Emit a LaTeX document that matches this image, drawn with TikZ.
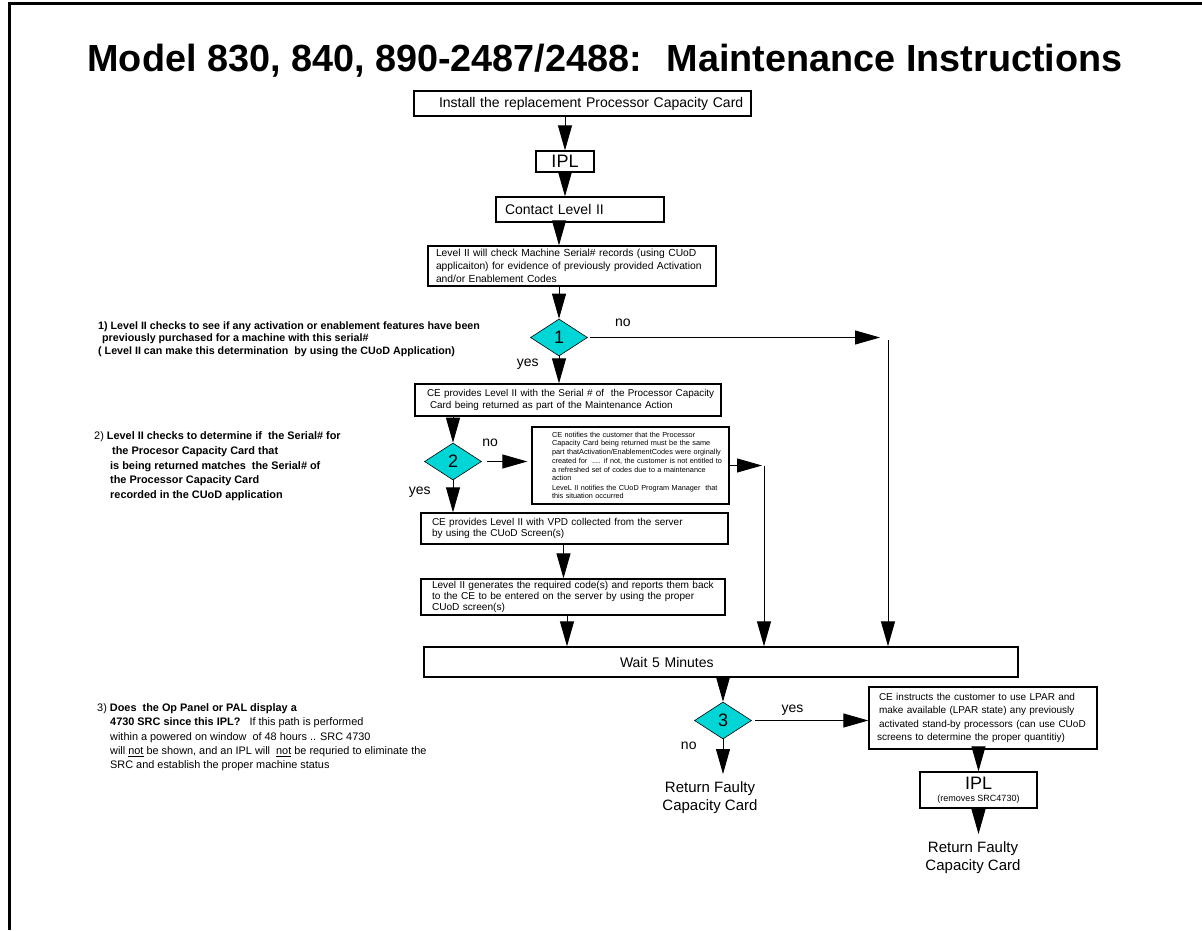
\documentclass[tikz,border=0pt]{standalone}
\usepackage{fontspec}
\setmainfont{Liberation Sans}
\usepackage{tikz}
\usetikzlibrary{
	shapes.geometric,
	positioning,
	arrows.meta
}
\definecolor{decisioncyan}{RGB}{0,214,214}
\newcommand\fsz[2]{\fontsize{#1}{#2}\selectfont}

\begin{document}
\begin{tikzpicture}[x=1pt,y=-1pt,
	box/.style={draw,line width=1.3pt,inner sep=0pt,align=left},
	boxsize/.style n args={3}{minimum width=#1,text width=#1,minimum height=#2,
		execute at begin node={\leftskip=#3\rightskip=-40pt plus 1fil\relax}},
	test/.style={draw,diamond,fill=decisioncyan,line width=.6pt,inner sep=0pt,
		minimum width=57pt,minimum height=37pt,font=\fsz{18}{20}},
	flow/.style={-{Triangle[length=25pt,width=14pt]},line width=.9pt},
	lbl/.style={font=\fsz{14}{16},inner sep=2pt},
	note/.style={anchor=north west,align=left,inner sep=0pt},
	final/.style={anchor=north,align=center,inner xsep=0pt,inner ysep=7pt,font=\fsz{15}{18.7}}
]
	\useasboundingbox (0,0) rectangle (1202,930);
	\draw[line width=3pt] (9,930) -- (9,3) -- (1202,3);

	\node[font=\bfseries\fsz{37.8}{40},inner sep=0pt,anchor=base] (title) at (605,71)
		{Model 830, 840, 890-2487/2488:~ Maintenance Instructions};

	% main column
	\draw
		node[box,boxsize={337pt}{25pt}{25pt},font=\fsz{14}{16}] (install) at (582.5,103.5)
			{Install the replacement Processor Capacity Card}
		node[box,align=center,minimum width=58pt,minimum height=21pt,font=\fsz{18}{20}] (ipl) at (565,161.5) {IPL}
		node[box,boxsize={168pt}{25pt}{9pt},font=\fsz{14}{16}] (contact) at (580,209.5) {Contact Level II}
		node[box,boxsize={288pt}{40pt}{8pt},font=\fsz{10.3}{13}] (check) at (572,266)
			{Level II will check Machine Serial\# records (using CUoD\\applicaiton) for evidence of previously provided Activation\\and/or Enablement Codes}
		node[test] (d1) at (559,337.5) {1}
		node[box,boxsize={306pt}{32pt}{12pt},font=\fsz{9.9}{12}] (serial) at (568,400)
			{CE provides Level II with the Serial \# of~ the Processor Capacity\\\hspace*{3pt}Card being returned as part of the Maintenance Action}
		node[test] (d2) at (453,461.5) {2}
		node[box,boxsize={197pt}{77pt}{20pt},font=\fsz{7.3}{8.3}] (notify) at (630.5,465.5)
			{CE notifies the customer that the Processor\\Capacity Card being returned must be the same\\part thatActivation/EnablementCodes were orginally\\[1.5pt]created for~ .... if not, the customer is not entitled to\\a refreshed set of codes due to a maintenance\\action\\[1.5pt]LeveL II notifies the CUoD Program Manager~ that\\this situation occurred}
		node[box,boxsize={307pt}{31pt}{11pt},font=\fsz{10}{11.5}] (vpd) at (574.5,528.5)
			{CE provides Level II with VPD collected from the server\\by using the CUoD Screen(s)}
		node[box,boxsize={304pt}{36pt}{11pt},font=\fsz{10.1}{11.3}] (gen) at (573,597)
			{Level II generates the required code(s) and reports them back\\to the CE to be entered on the server by using the proper\\CUoD screen(s)}
		node[box,boxsize={594pt}{30pt}{196pt},font=\fsz{14}{16}] (wait) at (721,662) {Wait 5 Minutes}
		node[test] (d3) at (723,720.5) {3}
		node[box,boxsize={228pt}{62pt}{8pt},font=\fsz{10}{13.3}] (instruct) at (983,718)
			{\hspace*{2pt}CE instructs the customer to use LPAR and\\\hspace*{2pt}make available (LPAR state) any previously\\\hspace*{2pt}activated stand-by processors (can use CUoD\\screens to determine the proper quantitiy)}
		node[box,align=center,minimum width=117pt,minimum height=36pt,font=\fsz{9}{12}] (ipl2) at (978.5,790)
			{{\fsz{18}{20}IPL}\\(removes SRC4730)}
		node[final] (ret1) at (710,774) {Return Faulty\\Capacity Card}
		node[final] (ret2) at (973,834) {Return Faulty\\Capacity Card}
	;
	\coordinate (nojoin) at (880,337.5);
	\coordinate (drop1) at (888,340);
	\coordinate (drop2) at (764,465.5);

	% connectors
	\draw
		(install.south -| ipl) edge[flow] (ipl.north)
		(ipl.south) edge[flow] (ipl.south |- contact.north)
		(contact.south -| d1) edge[flow] (check.north -| d1)
		(check.south -| d1) edge[flow] (d1.north)
		(d1.south) edge[flow] node[lbl,left=18pt,pos=.3]{yes} (d1.south |- serial.north)
		(d1.east) edge[flow,shorten <=2pt] node[lbl,above=8pt,pos=.12]{no} (nojoin)
		(drop1) edge[flow] (drop1 |- wait.north)
		(serial.south -| d2) edge[flow] (d2.north)
		(d2.east) edge[flow,shorten <=5pt,shorten >=4pt] node[lbl,above=12pt,pos=.17]{no} (notify.west |- d2.east)
		(notify.east) edge[flow,shorten >=2pt] (drop2)
		(drop2) edge[flow] (drop2 |- wait.north)
		(d2.south) edge[flow] node[lbl,left=20pt,pos=.36]{yes} (d2.south |- vpd.north)
		([xshift=-11pt]vpd.south) edge[flow] ([xshift=-11pt]vpd.south |- gen.north)
		([xshift=-6pt]gen.south) edge[flow] ([xshift=-6pt]gen.south |- wait.north)
		(d3.north |- wait.south) edge[flow] (d3.north)
		(d3.east) edge[flow,shorten <=3pt] node[lbl,above=3pt,pos=.35]{yes} (instruct.west |- d3.east)
		(d3.south) edge[flow] node[lbl,left=24pt,pos=.2]{no} (d3.south |- ret1.north)
		(instruct.south -| ipl2) edge[flow] (ipl2.north)
		(ipl2.south) edge[flow] (ipl2.south |- ret2.north)
	;

	% notes on the left
	\node[note,font=\bfseries\fsz{10.7}{12.5}] (note1) at (98,321.5)
		{1) Level II checks to see if any activation or enablement features have been\\\hspace*{4pt}previously purchased for a machine with this serial\#\\( Level II can make this determination~ by using the CUoD Application)};
	\node[note,font=\fsz{10.9}{14.7}] (note2) at (94,431.5)
		{2) \textbf{Level II checks to determine if~ the Serial\# for}\\\hspace*{18pt}\textbf{the Procesor Capacity Card that}\\\hspace*{16pt}\textbf{is being returned matches~ the Serial\# of}\\\hspace*{16pt}\textbf{the Processor Capacity Card}\\\hspace*{16pt}\textbf{recorded in the CUoD application}};
	\node[note,font=\fsz{10.9}{14.2}] (note3) at (97,703.5)
		{3) \textbf{Does~ the Op Panel or PAL display a}\\\hspace*{13pt}\textbf{4730 SRC since this IPL?}~~ If this path is performed\\\hspace*{13pt}within a powered on window~ of 48 hours .. SRC 4730\\\hspace*{13pt}will \underline{not} be shown, and an IPL will~ \underline{not} be requried to eliminate the\\\hspace*{13pt}SRC and establish the proper machine status};
\end{tikzpicture}
\end{document}
